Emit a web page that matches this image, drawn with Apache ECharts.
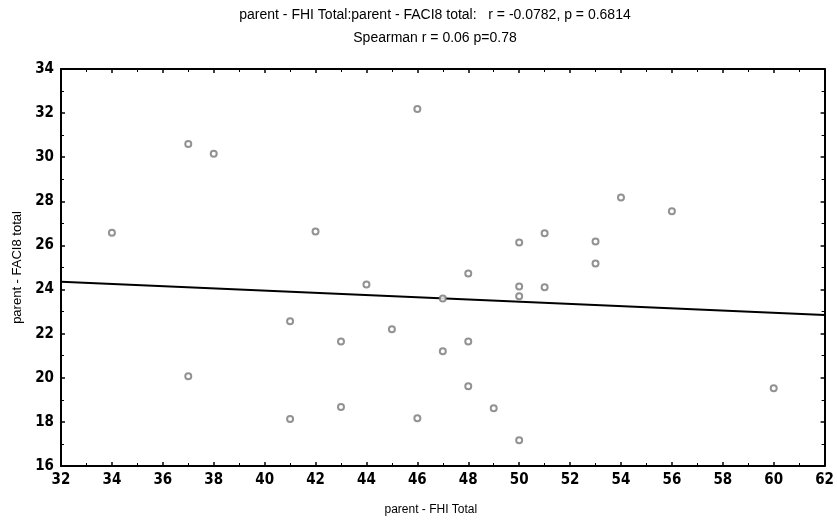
<!DOCTYPE html>
<html><head><meta charset="utf-8">
<script src="https://cdn.jsdelivr.net/npm/echarts@6/dist/echarts.min.js"></script>
<style>html,body{margin:0;padding:0;background:#fff}#c{width:837px;height:521px}</style>
</head><body><div id="c"></div>
<script>
var titleLine1 = 'parent - FHI Total:parent - FACI8 total:   r = -0.0782, p = 0.6814';
var titleLine2 = 'Spearman r = 0.06 p=0.78';
var xTitle = 'parent - FHI Total';
var yTitle = 'parent - FACI8 total';
var xVals = [34,37,38,37,41,41,42,43,43,44,45,46,46,47,47,48,48,48,49,50,50,50,50,51,51,53,53,54,56,60];
var yVals = [26.58,30.6,30.16,20.07,22.56,18.13,26.63,21.65,18.67,24.23,22.2,32.19,18.17,23.6,21.2,24.73,21.65,19.62,18.62,26.13,24.14,23.7,17.17,26.55,24.1,26.18,25.18,28.17,27.55,19.53];
var fitX = [32, 62];
var fitY = [24.35, 22.85];

var pts = xVals.map(function(x,i){return [x, yVals[i]];});
var fit = fitX.map(function(x,i){return [x, fitY[i]];});
var font = 'Liberation Sans, Arial, sans-serif';
var narrow = 'DejaVu Sans Condensed, Liberation Sans, sans-serif';
var axLine = {show:true, onZero:false, lineStyle:{color:'#000', width:2}};
function xa(pos, labels){
  return {type:'value', position:pos, min:32, max:62, interval:2,
    axisLine:axLine, splitLine:{show:false},
    axisTick:{show:true, inside:true, length:4, lineStyle:{color:'#000', width:1.5}},
    minorTick:{show:true, splitNumber:2, length:3, lineStyle:{color:'#000'}},
    axisLabel:{show:labels, color:'#000', fontSize:15, fontWeight:'bold', fontFamily:narrow, margin:7},
    name: labels ? xTitle : '', nameLocation:'middle', nameGap:38,
    nameTextStyle:{color:'#000', fontSize:12, fontFamily:font, padding:[0,24,0,0]}};
}
function ya(pos, labels){
  return {type:'value', position:pos, min:16, max:34, interval:2,
    axisLine:axLine, splitLine:{show:false},
    axisTick:{show:true, inside:true, length:4, lineStyle:{color:'#000', width:1.5}},
    minorTick:{show:true, splitNumber:2, length:3, lineStyle:{color:'#000'}},
    axisLabel:{show:labels, color:'#000', fontSize:15, fontWeight:'bold', fontFamily:narrow, margin:7},
    name: labels ? yTitle : '', nameLocation:'middle', nameGap:36,
    nameTextStyle:{color:'#000', fontSize:13, fontFamily:font}};
}
var chart = echarts.init(document.getElementById('c'));
chart.setOption({
  animation:false,
  backgroundColor:'#fff',
  title:{text:titleLine1 + '\n' + titleLine2, left:430, top:-1, textAlign:'center',
    textStyle:{color:'#000', fontSize:14, fontWeight:'normal', fontFamily:font, lineHeight:23}},
  grid:{left:61, right:9, top:69, bottom:54},
  xAxis:[xa('bottom', true), xa('top', false)],
  yAxis:[ya('left', true), ya('right', false)],
  series:[
    {type:'line', data:fit, showSymbol:false, symbol:'none', lineStyle:{color:'#000', width:2}, z:3},
    {type:'scatter', data:pts, symbol:'emptyCircle', symbolSize:6,
      itemStyle:{color:'#777', borderColor:'#777', borderWidth:1}, z:4}
  ]
});
</script></body></html>
